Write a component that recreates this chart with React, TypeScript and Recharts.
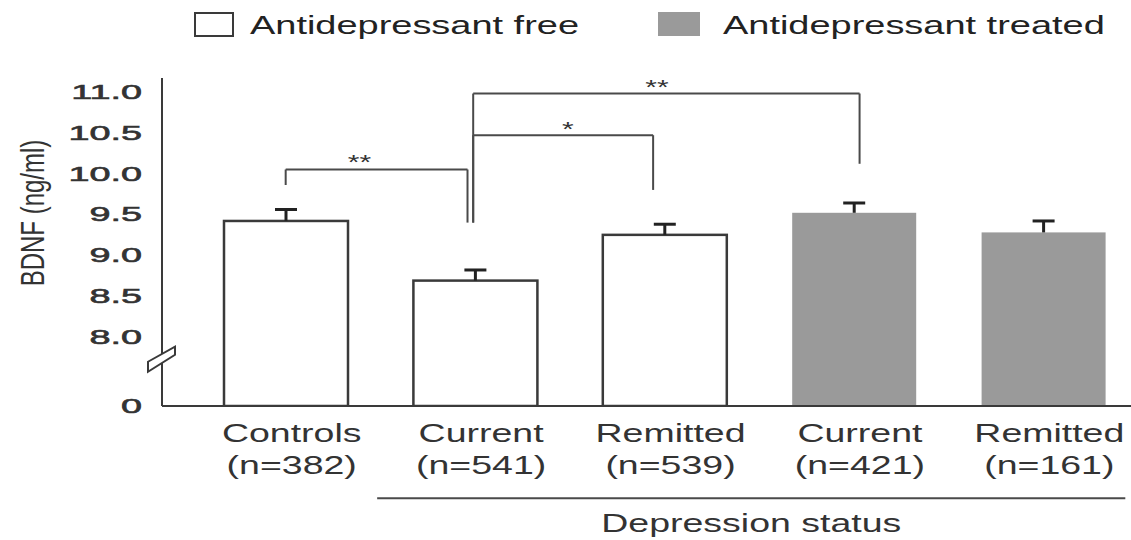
import { BarChart, Bar, XAxis, YAxis, Cell, ReferenceLine, ReferenceDot } from 'recharts';

const groups = ['Controls', 'Current', 'Remitted', 'Current', 'Remitted'];
const sampleSizes = ['(n=382)', '(n=541)', '(n=539)', '(n=421)', '(n=161)'];
const treated = [false, false, false, true, true];
const bdnfMeans = [9.42, 8.69, 9.25, 9.52, 9.28];
const bdnfErrors = [0.14, 0.13, 0.13, 0.12, 0.14];
const yTickValues = [0, 8.0, 8.5, 9.0, 9.5, 10.0, 10.5, 11.0];
const legendLabels = ['Antidepressant free', 'Antidepressant treated'];

// significance brackets (x in category units, y in ng/ml)
const bracketFrom = [0, 0.99, 0.99];
const bracketTo = [0.96, 1.94, 3.03];
const bracketTop = [10.05, 10.47, 10.98];
const bracketLeftEnd = [9.86, 9.4, 9.4];
const bracketRightEnd = [9.4, 9.8, 10.12];
const bracketMarks = ['**', '*', '**'];
const markX = [0.39, 1.49, 1.96];
const markY = [10.19, 10.6, 11.11];

// y axis is broken between 0 and 8
const AXIS_BREAK = 8;
const BREAK_SPAN = 0.845;
const Y_MAX = 11.17;
const X_LEFT = -0.653;
const X_RIGHT = 4.5;

const toPlot = (v: number) => (v >= AXIS_BREAK ? v - AXIS_BREAK + BREAK_SPAN : (v / AXIS_BREAK) * BREAK_SPAN);
const fromPlot = (p: number) => (p >= BREAK_SPAN - 1e-6 ? p - BREAK_SPAN + AXIS_BREAK : (p / BREAK_SPAN) * AXIS_BREAK);

const FONT = '"Liberation Sans", Arial, Helvetica, sans-serif';
const INK = '#3a3a3a';
const GREY = '#9a9a9a';

const data = groups.map((g, i) => ({
  key: `g${i}`,
  pos: i,
  plotted: toPlot(bdnfMeans[i]),
  err: bdnfErrors[i],
}));

function YTick({ x, y, payload }: any) {
  const v = fromPlot(payload.value);
  const label = v < 1 ? '0' : v.toFixed(1);
  return (
    <text
      transform={`translate(${x},${y}) scale(1.8,1)`}
      textAnchor="end"
      dy={7}
      fontSize={21}
      fontFamily={FONT}
      fill="#333"
      stroke="#333"
      strokeWidth={0.6}
    >
      {label}
    </text>
  );
}

function GroupTick({ x, y, payload }: any) {
  const i = payload.index ?? 0;
  return (
    <g transform={`translate(${x + 6},${y}) scale(1.5,1)`}>
      <text textAnchor="middle" y={36} fontSize={25} fontFamily={FONT} fill="#333">{groups[i]}</text>
      <text textAnchor="middle" y={68} fontSize={25} fontFamily={FONT} fill="#333">{sampleSizes[i]}</text>
    </g>
  );
}

// bar with a one-sided (upper) error whisker
function BdnfBar(props: any) {
  const { x, y, width, height, payload, fill, stroke } = props;
  const perUnit = height / payload.plotted;
  const top = y - payload.err * perUnit;
  const cx = x + width / 2;
  return (
    <g>
      <rect x={x} y={y} width={width} height={height} fill={fill} stroke={stroke} strokeWidth={2.5} />
      <line x1={cx} x2={cx} y1={y} y2={top} stroke="#222" strokeWidth={3} />
      <line x1={cx - 11} x2={cx + 11} y1={top} y2={top} stroke="#222" strokeWidth={3} />
    </g>
  );
}

const yLabel = ({ viewBox }: any) => (
  <text
    transform={`translate(${viewBox.x + 33},${viewBox.y + viewBox.height / 2 - 29}) scale(1.4,1) rotate(-90)`}
    textAnchor="middle"
    dy={8}
    fontSize={24}
    fontFamily={FONT}
    fill="#333"
  >
    BDNF (ng/ml)
  </text>
);

const spanLabel = ({ viewBox }: any) => (
  <text
    transform={`translate(${viewBox.x + viewBox.width / 2},${viewBox.y + 34}) scale(1.5,1)`}
    textAnchor="middle"
    fontSize={25}
    fontFamily={FONT}
    fill="#333"
  >
    Depression status
  </text>
);

export default function App() {
  const bracketSegments = bracketFrom.flatMap((from, i) => [
    [{ x: from, y: toPlot(bracketLeftEnd[i]) }, { x: from, y: toPlot(bracketTop[i]) }],
    [{ x: from, y: toPlot(bracketTop[i]) }, { x: bracketTo[i], y: toPlot(bracketTop[i]) }],
    [{ x: bracketTo[i], y: toPlot(bracketTop[i]) }, { x: bracketTo[i], y: toPlot(bracketRightEnd[i]) }],
  ]);

  return (
    <div style={{ position: 'absolute', left: 0, top: 0, width: 1131, height: 540, overflow: 'hidden', background: '#fff' }}>
      <BarChart width={1138} height={540} data={data} margin={{ top: 78, right: 0, bottom: 0, left: 0 }}>
        <XAxis
          dataKey="key"
          interval={0}
          height={134}
          padding={{ left: 29, right: 0 }}
          tick={<GroupTick />}
          tickLine={false}
          tickSize={0}
          tickMargin={0}
          axisLine={{ stroke: INK, strokeWidth: 2 }}
        />
        <XAxis xAxisId="pos" dataKey="pos" type="number" domain={[X_LEFT, X_RIGHT]} allowDataOverflow hide />
        <YAxis
          type="number"
          width={162}
          domain={[0, toPlot(Y_MAX)]}
          ticks={yTickValues.map(toPlot)}
          interval={0}
          allowDataOverflow
          tick={<YTick />}
          tickLine={false}
          tickSize={0}
          tickMargin={20}
          axisLine={{ stroke: INK, strokeWidth: 2 }}
          label={yLabel}
        />
        <Bar dataKey="plotted" barSize={124} isAnimationActive={false} shape={<BdnfBar />}>
          {data.map((d, i) => (
            <Cell key={d.key} fill={treated[i] ? GREY : '#fff'} stroke={treated[i] ? 'none' : INK} />
          ))}
        </Bar>
        {bracketSegments.map((seg, i) => (
          <ReferenceLine key={`b${i}`} xAxisId="pos" segment={seg} stroke="#4a4a4a" strokeWidth={2} ifOverflow="visible" />
        ))}
        {bracketMarks.map((m, i) => (
          <ReferenceDot
            key={`m${i}`}
            xAxisId="pos"
            x={markX[i]}
            y={toPlot(markY[i])}
            r={0}
            ifOverflow="visible"
            shape={(p: any) => (
              <text transform={`translate(${p.cx},${p.cy}) scale(1.5,1)`} textAnchor="middle" dy={11} fontSize={20} fontFamily={FONT} fill="#333">
                {m}
              </text>
            )}
          />
        ))}
        <ReferenceDot
          xAxisId="pos"
          x={X_LEFT}
          y={BREAK_SPAN * 0.67}
          r={0}
          ifOverflow="visible"
          shape={(p: any) => (
            <polygon
              points={`${p.cx - 14},${p.cy + 2} ${p.cx + 13},${p.cy - 13} ${p.cx + 13},${p.cy - 5} ${p.cx - 14},${p.cy + 12}`}
              fill="#fff"
              stroke={INK}
              strokeWidth={2}
            />
          )}
        />
        <ReferenceLine
          xAxisId="pos"
          segment={[{ x: 0.483, y: -1.13 }, { x: 4.433, y: -1.13 }]}
          stroke="#4a4a4a"
          strokeWidth={2}
          ifOverflow="visible"
          label={spanLabel}
        />
      </BarChart>
      <svg width={1131} height={60} style={{ position: 'absolute', left: 0, top: 0, pointerEvents: 'none' }}>
        <rect x={195} y={13} width={38} height={23} fill="#fff" stroke={INK} strokeWidth={2} />
        <text transform="translate(250,34) scale(1.46,1)" fontSize={26} fontFamily={FONT} fill="#222">{legendLabels[0]}</text>
        <rect x={658} y={12} width={42} height={24} fill={GREY} />
        <text transform="translate(723,34) scale(1.46,1)" fontSize={26} fontFamily={FONT} fill="#222">{legendLabels[1]}</text>
      </svg>
    </div>
  );
}
